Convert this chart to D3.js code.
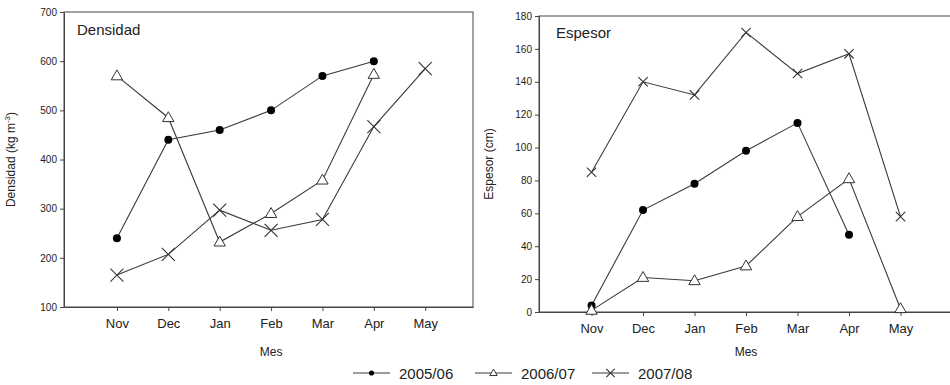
<!DOCTYPE html>
<html>
<head>
<meta charset="utf-8">
<script src="https://cdn.jsdelivr.net/npm/d3@7"></script>
<style>
  body { margin: 0; background: #fff; }
  svg text { font-family: "Liberation Sans", Arial, sans-serif; fill: #222; }
</style>
</head>
<body>
<div id="chart"></div>
<script>
// data
var months = ["Nov", "Dec", "Jan", "Feb", "Mar", "Apr", "May"];
var seasons = ["2005/06", "2006/07", "2007/08"];

var densidad0506 = [240, 440, 460, 500, 570, 600];
var densidad0607 = [570, 485, 232, 290, 358, 573];
var densidad0708 = [165, 207, 297, 256, 278, 467, 585];

var espesor0506 = [4, 62, 78, 98, 115, 47];
var espesor0607 = [1, 21, 19, 28, 58, 81, 2];
var espesor0708 = [85, 140, 132, 170, 145, 157, 58];

var densidadTicks = [100, 200, 300, 400, 500, 600, 700];
var espesorTicks = [0, 20, 40, 60, 80, 100, 120, 140, 160, 180];

var svgWidth = 950, svgHeight = 385;
var lineColor = "#3a3a3a";

var svg = d3.select("#chart")
    .append("svg")
    .attr("width", svgWidth)
    .attr("height", svgHeight);

var panels = [
    {
        title: "Densidad", ylabel: "Densidad (kg m", ysup: "-3", ysuffix: ")",
        left: 64, right: 473, top: 12, bottom: 307,
        xdomain: [-1.03, 6.93], ydomain: [100, 700], yticks: densidadTicks,
        series: [densidad0506, densidad0607, densidad0708],
        titleX: 77, titleY: 35, labelX: 15, crossSize: 1
    },
    {
        title: "Espesor", ylabel: "Espesor (cm)",
        left: 539, right: 952, top: 16, bottom: 312,
        xdomain: [-1.02, 7], ydomain: [0, 180], yticks: espesorTicks,
        series: [espesor0506, espesor0607, espesor0708],
        titleX: 556, titleY: 38, labelX: 493, crossSize: 0.72
    }
];

var markerTypes = ["circle", "triangle", "cross"];

function drawMarker(g, type, x, y, s) {
    if (type === "circle") {
        g.append("circle")
            .attr("cx", x).attr("cy", y).attr("r", 4 * s)
            .attr("fill", "#000");
    } else if (type === "triangle") {
        var h = 6 * s;
        g.append("path")
            .attr("d", `M${x},${y - h} L${x + h * 0.95},${y + h * 0.65} L${x - h * 0.95},${y + h * 0.65} Z`)
            .attr("fill", "#fff")
            .attr("stroke", "#333")
            .attr("stroke-width", 1);
    } else {
        var d = 6.5 * s;
        g.append("path")
            .attr("d", `M${x - d},${y - d} L${x + d},${y + d} M${x - d},${y + d} L${x + d},${y - d}`)
            .attr("stroke", "#333")
            .attr("stroke-width", 1.1)
            .attr("fill", "none");
    }
}

panels.forEach(function (p) {
    var x = d3.scaleLinear().domain(p.xdomain).range([p.left, p.right]);
    var y = d3.scaleLinear().domain(p.ydomain).range([p.bottom, p.top]);

    var g = svg.append("g");

    // frame
    g.append("rect")
        .attr("x", p.left).attr("y", p.top)
        .attr("width", p.right - p.left).attr("height", p.bottom - p.top)
        .attr("fill", "none").attr("stroke", "#444").attr("stroke-width", 1);

    // axes
    var xAxis = d3.axisBottom(x)
        .tickValues(d3.range(months.length))
        .tickFormat(function (i) { return months[i]; })
        .tickSize(4).tickSizeOuter(0);
    var xg = g.append("g")
        .attr("transform", `translate(0, ${p.bottom})`)
        .call(xAxis);
    xg.select(".domain").attr("stroke", "#444");
    xg.selectAll(".tick line").attr("stroke", "#444");
    xg.selectAll("text").attr("font-size", 13).attr("dy", "1.1em").attr("fill", "#222");

    var yAxis = d3.axisLeft(y)
        .tickValues(p.yticks)
        .tickSize(4).tickSizeOuter(0);
    var yg = g.append("g")
        .attr("transform", `translate(${p.left}, 0)`)
        .call(yAxis);
    yg.select(".domain").attr("stroke", "#444");
    yg.selectAll(".tick line").attr("stroke", "#444");
    yg.selectAll("text").attr("font-size", 10).attr("x", -7).attr("fill", "#222");

    // title
    g.append("text")
        .attr("x", p.titleX).attr("y", p.titleY)
        .attr("font-size", 15)
        .text(p.title);

    // x label
    g.append("text")
        .attr("x", (x(0) + x(6)) / 2).attr("y", 356)
        .attr("text-anchor", "middle")
        .attr("font-size", 12)
        .text("Mes");

    // y label
    var yl = g.append("text")
        .attr("transform", `translate(${p.labelX}, ${(p.top + p.bottom) / 2}) rotate(-90)`)
        .attr("text-anchor", "middle")
        .attr("font-size", 12);
    yl.append("tspan").text(p.ylabel);
    if (p.ysup) {
        yl.append("tspan").attr("font-size", 8).attr("dy", -5).text(p.ysup);
        yl.append("tspan").attr("dy", 5).text(p.ysuffix);
    }

    // lines and markers
    var line = d3.line()
        .x(function (d, i) { return x(i); })
        .y(function (d) { return y(d); });

    p.series.forEach(function (vals) {
        g.append("path")
            .datum(vals)
            .attr("d", line)
            .attr("fill", "none")
            .attr("stroke", lineColor)
            .attr("stroke-width", 1.1);
    });
    p.series.forEach(function (vals, k) {
        vals.forEach(function (v, i) {
            var s = markerTypes[k] === "cross" ? p.crossSize : 1;
            drawMarker(g, markerTypes[k], x(i), y(v), s);
        });
    });
});

// legend
var legendX = [353, 475, 592];
var legend = svg.append("g");
seasons.forEach(function (s, k) {
    var lx = legendX[k];
    var ly = 373;
    legend.append("line")
        .attr("x1", lx).attr("x2", lx + 37)
        .attr("y1", ly).attr("y2", ly)
        .attr("stroke", lineColor).attr("stroke-width", 1.1);
    drawMarker(legend, markerTypes[k], lx + 18.5, ly, 0.65);
    legend.append("text")
        .attr("x", lx + 46).attr("y", ly + 5.5)
        .attr("font-size", 15)
        .text(s);
});
</script>
</body>
</html>
